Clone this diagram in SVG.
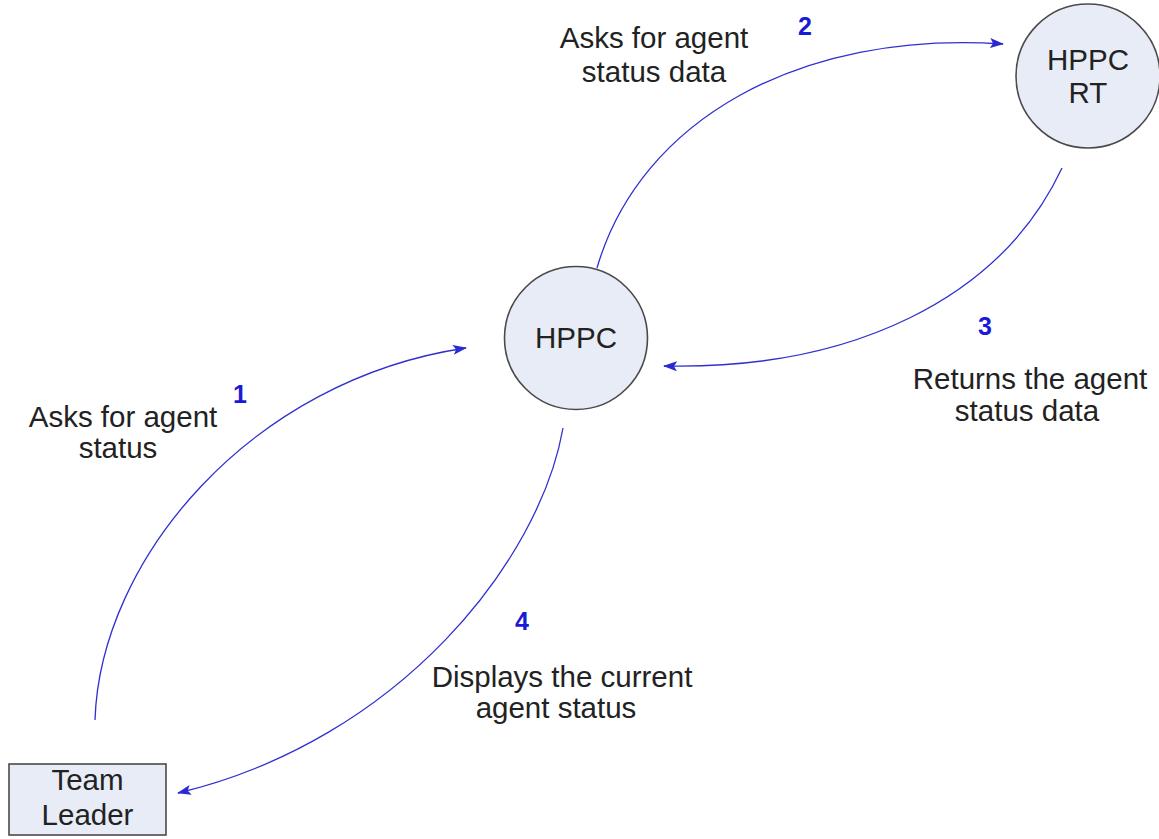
<svg xmlns="http://www.w3.org/2000/svg" width="1159" height="839" viewBox="0 0 1159 839">
<style>
.node{fill:#e8ecf6;stroke:#4a4a4a;stroke-width:1.6}
.lbl{font-family:"Liberation Sans",Arial,sans-serif;font-size:29.5px;fill:#222;text-anchor:middle}
.num{font-family:"Liberation Sans",Arial,sans-serif;font-size:25px;font-weight:bold;fill:#1a1ad6;text-anchor:middle}
.edge{fill:none;stroke:#3030d0;stroke-width:1.3}
</style>
<defs>
<marker id="arr" markerUnits="userSpaceOnUse" markerWidth="14" markerHeight="10" refX="13" refY="5" orient="auto">
<path d="M0,0 L14,5 L0,10 L3,5 Z" fill="#2a2ad0"/>
</marker>
</defs>
<rect width="1159" height="839" fill="#fff"/>
<g id="connectors">
<path class="edge" d="M95,720 C100,560 250,380 466,348" marker-end="url(#arr)"/>
<path class="edge" d="M597,268 C640,120 800,30 1003,44" marker-end="url(#arr)"/>
<path class="edge" d="M1062,168 C1000,300 850,370 664,366" marker-end="url(#arr)"/>
<path class="edge" d="M563,428 C540,560 400,740 178,793" marker-end="url(#arr)"/>
</g>
<g id="node-hppc">
<circle class="node" cx="576" cy="338" r="71.5"/>
<text class="lbl" x="576" y="348">HPPC</text>
</g>
<g id="node-hppc-rt">
<circle class="node" cx="1088" cy="76" r="72"/>
<text class="lbl" x="1088" y="70">HPPC</text>
<text class="lbl" x="1088" y="103">RT</text>
</g>
<g id="node-team-leader">
<rect class="node" x="9" y="764" width="157" height="71"/>
<text class="lbl" x="87.5" y="790">Team</text>
<text class="lbl" x="87.5" y="825">Leader</text>
</g>
<g id="labels">
<text class="num" x="240" y="403">1</text>
<text class="lbl" x="123" y="427">Asks for agent</text>
<text class="lbl" x="118" y="458">status</text>
<text class="num" x="805" y="35">2</text>
<text class="lbl" x="654" y="48">Asks for agent</text>
<text class="lbl" x="654" y="82">status data</text>
<text class="num" x="985" y="335">3</text>
<text class="lbl" x="1030" y="389">Returns the agent</text>
<text class="lbl" x="1027" y="421">status data</text>
<text class="num" x="522" y="630">4</text>
<text class="lbl" x="562" y="687">Displays the current</text>
<text class="lbl" x="556" y="718">agent status</text>
</g>
</svg>
